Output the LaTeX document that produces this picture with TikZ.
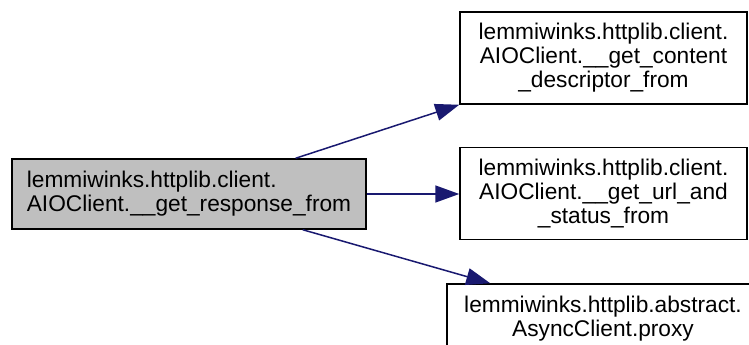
\documentclass[tikz,border=0pt]{standalone}
\usepackage{fontspec}
\setmainfont{Liberation Sans}
\usetikzlibrary{arrows.meta,calc}
\definecolor{edgeblue}{RGB}{25,25,112}
\definecolor{maingray}{RGB}{191,191,191}
\begin{document}
\begin{tikzpicture}[x=1pt,y=-1pt,
  box/.style={draw=black, line width=1.5pt, inner sep=0pt,
    font=\fontsize{22.7pt}{24pt}\selectfont},
  edge/.style={draw=edgeblue, line width=1.5pt,
    -{Triangle[length=24pt,width=17pt]}}]
\clip (0,0) rectangle (749,345);
\node[box, fill=maingray, minimum width=354pt, minimum height=70pt, align=left]
  (main) at (189,194) {lemmiwinks.httplib.client.\\AIOClient.\_\_get\_response\_from};
\node[box, minimum width=287pt, minimum height=92pt, align=center]
  (n1) at (603.5,58) {lemmiwinks.httplib.client.\\AIOClient.\_\_get\_content\\\_descriptor\_from};
\node[box, minimum width=287pt, minimum height=92pt, align=center]
  (n2) at (603.5,193.5) {lemmiwinks.httplib.client.\\AIOClient.\_\_get\_url\_and\\\_status\_from};
\node[box, minimum width=312pt, minimum height=70pt, align=center]
  (n3) at (603,319) {lemmiwinks.httplib.abstract.\\AsyncClient.proxy};
\draw[edge] ($(main.north west)!0.80!(main.north east)$) -- (n1.south west);
\draw[edge] (main.east) -- (main.east -| n2.west);
\draw[edge] ($(main.south west)!0.82!(main.south east)$) -- ([xshift=44pt]n3.north west);
\end{tikzpicture}
\end{document}
